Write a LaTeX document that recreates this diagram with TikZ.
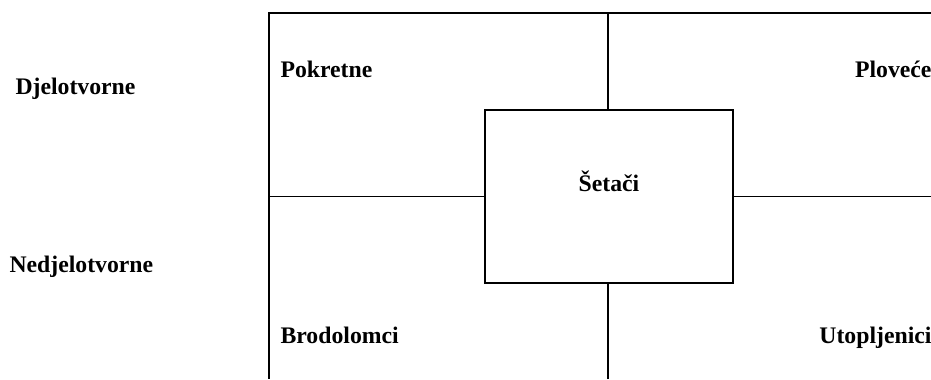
\documentclass[tikz,border=0pt]{standalone}
\usepackage{fontspec}
\setmainfont{Liberation Serif}
\usetikzlibrary{positioning}

\begin{document}
\begin{tikzpicture}[x=0.75pt,y=-0.75pt,line width=0.8pt,
                word/.style={font=\fontsize{17.8}{21}\selectfont\bfseries,inner sep=0pt},
                centre box/.style={draw,minimum width=186pt,minimum height=129.75pt,inner sep=0pt}]

        \useasboundingbox (0,0) rectangle (931,379);

        % frame corners and middles
        \coordinate (tl) at (269,13);
        \coordinate (tr) at (931,13);
        \coordinate (bl) at (269,379);
        \coordinate (tm) at (608,13);
        \coordinate (bm) at (608,379);
        \coordinate (lm) at (269,196.5);
        \coordinate (rm) at (931,196.5);

        \node[centre box] (setaci) at (609,196.5) {};
        \node[word,anchor=base] (setacitext) at ([yshift=3.4pt]setaci.center) {Šetači};

        \node[word,anchor=base west] (pokretne) at (280,77) {Pokretne};
        \node[word,anchor=base east] (plovece) at (932,77) {Ploveće};
        \node[word,anchor=base west] (brodolomci) at (280,343) {Brodolomci};
        \node[word,anchor=base east] (utopljenici) at (932,343) {Utopljenici};

        \node[word,anchor=base west] (djelotvorne) at (15,94) {Djelotvorne};
        \node[word,anchor=base west] (nedjelotvorne) at (9,272) {Nedjelotvorne};

        \draw (tr) -- (tl) -- (bl);
        \draw (tm) -- (tm |- setaci.north);
        \draw (bm) -- (bm |- setaci.south);
        \draw (lm) -- (setaci.west);
        \draw (setaci.east) -- (rm);

\end{tikzpicture}
\end{document}
